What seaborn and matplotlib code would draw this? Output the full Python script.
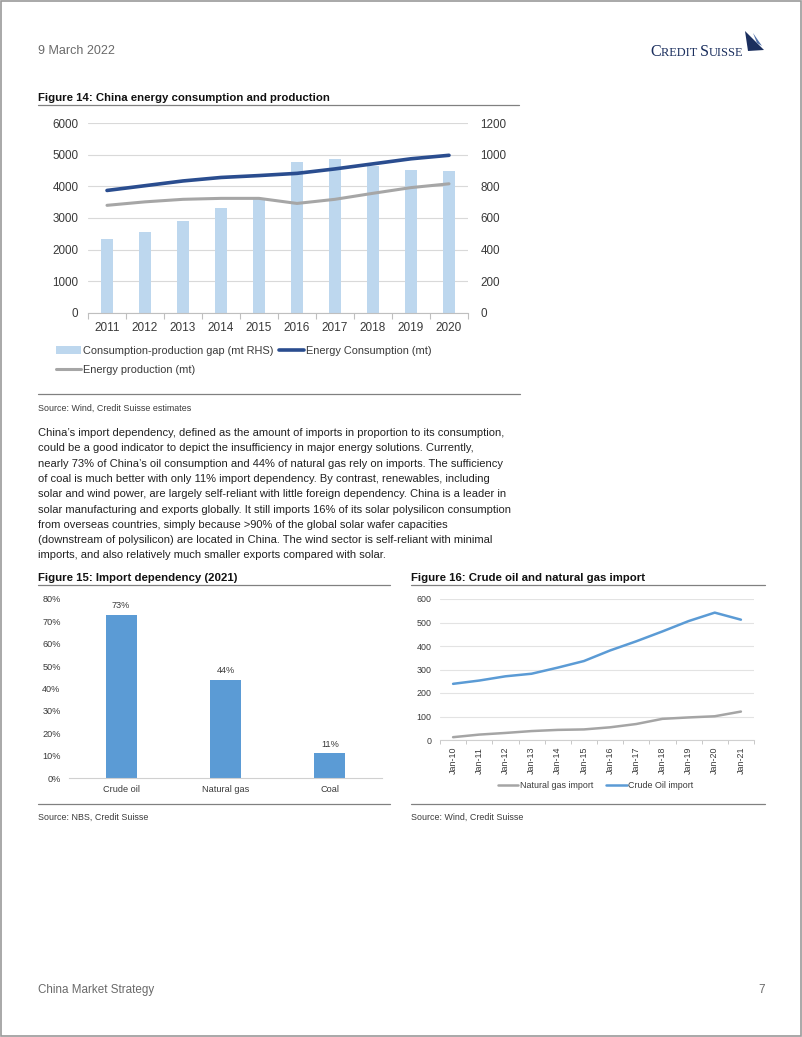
import numpy as np
import pandas as pd
import matplotlib
matplotlib.use("Agg")
import matplotlib.pyplot as plt
import seaborn as sns
from matplotlib.patches import Rectangle, Polygon, Patch
from matplotlib.lines import Line2D
from matplotlib.ticker import PercentFormatter

# ---------------- data ----------------
years = ["2011", "2012", "2013", "2014", "2015", "2016", "2017", "2018", "2019", "2020"]
gap_rhs = [466, 510, 580, 660, 724, 956, 970, 930, 900, 898]
consumption = [3870, 4020, 4170, 4280, 4340, 4410, 4550, 4710, 4870, 4980]
production = [3400, 3510, 3590, 3620, 3620, 3460, 3590, 3780, 3960, 4080]

dep_categories = ["Crude oil", "Natural gas", "Coal"]
dep_values = [0.73, 0.44, 0.11]

import_periods = ["Jan-10", "Jan-11", "Jan-12", "Jan-13", "Jan-14", "Jan-15",
                  "Jan-16", "Jan-17", "Jan-18", "Jan-19", "Jan-20", "Jan-21"]
crude_import = [239, 253, 271, 282, 308, 336, 381, 420, 462, 506, 542, 512]
gas_import = [12, 23, 30, 38, 43, 45, 54, 68, 90, 96, 101, 121]

body_lines = [
    "China\u2019s import dependency, defined as the amount of imports in proportion to its consumption,",
    "could be a good indicator to depict the insufficiency in major energy solutions. Currently,",
    "nearly 73% of China\u2019s oil consumption and 44% of natural gas rely on imports. The sufficiency",
    "of coal is much better with only 11% import dependency. By contrast, renewables, including",
    "solar and wind power, are largely self-reliant with little foreign dependency. China is a leader in",
    "solar manufacturing and exports globally. It still imports 16% of its solar polysilicon consumption",
    "from overseas countries, simply because >90% of the global solar wafer capacities",
    "(downstream of polysilicon) are located in China. The wind sector is self-reliant with minimal",
    "imports, and also relatively much smaller exports compared with solar.",
]

# ---------------- style ----------------
sns.set_theme(style="white")
plt.rcParams["font.family"] = ["Liberation Sans", "DejaVu Sans"]

W, H = 802, 1037
fig = plt.figure(figsize=(W / 100, H / 100), dpi=100)
renderer = fig.canvas.get_renderer()


def rect(l, t, r, b):
    return [l / W, 1 - b / H, (r - l) / W, (b - t) / H]


def fx(x):
    return x / W


def fy(y):
    return 1 - y / H


def hline(x0, x1, y, color="#808080", lw=0.9):
    fig.add_artist(Line2D([fx(x0), fx(x1)], [fy(y), fy(y)], color=color, lw=lw,
                          transform=fig.transFigure))


TXT = "#3a3a3a"
GRID = "#D9D9D9"
NAVY = "#1B2F5E"

# page border
fig.add_artist(Rectangle((0.0008, 0.0008), 0.9984, 0.9984, transform=fig.transFigure,
                         fill=False, edgecolor="#9a9a9a", lw=1.2))

# header
fig.text(fx(38), fy(51), "9 March 2022", fontsize=9, color="#6a6a6a", va="center", ha="left")

# logo text in small caps (large initials, smaller remaining letters)
x_cur = 650
for piece, size in [("C", 11.6), ("REDIT ", 8.9), ("S", 11.6), ("UISSE", 8.9)]:
    t = fig.text(fx(x_cur), fy(56), piece, fontsize=size, color=NAVY, va="baseline",
                 ha="left", family=["Liberation Serif", "DejaVu Serif"])
    bb = t.get_window_extent(renderer=renderer)
    x_cur += bb.width
fig.add_artist(Polygon([[fx(745), fy(31)], [fx(757), fy(43)], [fx(764), fy(50)],
                        [fx(748), fy(51)]],
                       closed=True, transform=fig.transFigure, color=NAVY, lw=0))
fig.add_artist(Polygon([[fx(753), fy(33)], [fx(762), fy(46)], [fx(757), fy(43)]],
                       closed=True, transform=fig.transFigure, color="#4f6fa8", lw=0))

# ---------------- Figure 14 ----------------
fig.text(fx(38), fy(98), "Figure 14: China energy consumption and production",
         fontsize=8.2, weight="bold", color="#111111", va="center")
hline(38, 519, 105)

df14 = pd.DataFrame({"year": years, "gap": gap_rhs,
                     "consumption": consumption, "production": production})
ax = fig.add_axes(rect(88, 123, 468, 313))
axr = ax.twinx()
sns.barplot(data=df14, x="year", y="gap", ax=axr, color="#BDD7EE", width=0.32,
            saturation=1, linewidth=0)
pos = np.arange(len(years))
sns.lineplot(x=pos, y=df14["consumption"], ax=ax, color="#2A4D8F", lw=2.6)
sns.lineplot(x=pos, y=df14["production"], ax=ax, color="#A6A6A6", lw=2.2)
ax.set_zorder(axr.get_zorder() + 1)
ax.patch.set_visible(False)

ax.set_xlim(-0.5, len(years) - 0.5)
ax.set_xticks(pos, years)
ax.set_xticks(np.arange(-0.5, len(years), 1), minor=True)
ax.set_ylim(0, 6000)
ax.set_yticks(np.arange(0, 6001, 1000))
axr.set_ylim(0, 1200)
axr.set_yticks(np.arange(0, 1201, 200))
ax.set_xlabel("")
ax.set_ylabel("")
axr.set_ylabel("")
axr.set_xlabel("")
ax.grid(False)
axr.grid(False)
axr.yaxis.grid(True, color=GRID, lw=0.8)
axr.set_axisbelow(True)
ax.tick_params(axis="x", which="major", length=0, pad=6.5, labelsize=8.5, labelcolor=TXT)
ax.tick_params(axis="x", which="minor", length=4, color="#BFBFBF", width=0.8, bottom=True)
ax.tick_params(axis="y", length=0, pad=7, labelsize=8.4, labelcolor=TXT)
axr.tick_params(axis="y", length=0, pad=9, labelsize=8.4, labelcolor=TXT)
for s in ax.spines.values():
    s.set_visible(False)
for s in axr.spines.values():
    s.set_visible(False)
ax.spines["bottom"].set_visible(True)
ax.spines["bottom"].set_color("#BFBFBF")
ax.spines["bottom"].set_linewidth(0.8)

h_bar = Patch(facecolor="#BDD7EE", edgecolor="none")
h_cons = Line2D([], [], color="#2A4D8F", lw=2.6)
h_prod = Line2D([], [], color="#A6A6A6", lw=2.2)
fig.legend(handles=[h_bar, h_prod, h_cons],
           labels=["Consumption-production gap (mt RHS)", "Energy production (mt)",
                   "Energy Consumption (mt)"],
           ncol=2, loc="upper left", bbox_to_anchor=(fx(56), fy(346)), frameon=False,
           fontsize=7.9, handlelength=2.3, handletextpad=0.2, columnspacing=0.45,
           labelspacing=0.85, borderpad=0, borderaxespad=0, labelcolor=TXT)

hline(38, 520, 394)
fig.text(fx(38), fy(408), "Source: Wind, Credit Suisse estimates", fontsize=6.4,
         color=TXT, va="center")

# body text
for i, line in enumerate(body_lines):
    fig.text(fx(38), fy(433 + i * 15.3), line, fontsize=8.05, color="#222222", va="center")

# ---------------- Figure 15 ----------------
fig.text(fx(38), fy(578), "Figure 15: Import dependency (2021)", fontsize=8.2,
         weight="bold", color="#111111", va="center")
hline(38, 390, 585)
ax15 = fig.add_axes(rect(69, 599, 382, 778))
sns.barplot(x=dep_categories, y=dep_values, ax=ax15, color="#5B9BD5", width=0.3,
            saturation=1, linewidth=0)
ax15.set_ylim(0, 0.8)
ax15.set_yticks(np.arange(0, 0.81, 0.1))
ax15.yaxis.set_major_formatter(PercentFormatter(1, decimals=0))
ax15.bar_label(ax15.containers[0], labels=[f"{v:.0%}" for v in dep_values],
               padding=3, fontsize=6.6, color=TXT)
ax15.grid(False)
ax15.tick_params(axis="both", length=0, labelsize=6.6, labelcolor=TXT)
ax15.tick_params(axis="y", pad=6)
ax15.tick_params(axis="x", pad=5)
for s in ax15.spines.values():
    s.set_visible(False)
ax15.spines["bottom"].set_visible(True)
ax15.spines["bottom"].set_color("#D0D0D0")
ax15.spines["bottom"].set_linewidth(0.8)
hline(38, 390, 804)
fig.text(fx(38), fy(817), "Source: NBS, Credit Suisse", fontsize=6.4, color=TXT, va="center")

# ---------------- Figure 16 ----------------
fig.text(fx(411), fy(578), "Figure 16: Crude oil and natural gas import", fontsize=8.2,
         weight="bold", color="#111111", va="center")
hline(411, 765, 585)
ax16 = fig.add_axes(rect(440, 599, 754, 740))
p16 = np.arange(len(import_periods))
sns.lineplot(x=p16, y=gas_import, ax=ax16, color="#A5A5A5", lw=1.8)
sns.lineplot(x=p16, y=crude_import, ax=ax16, color="#5B9BD5", lw=1.8)
ax16.set_xlim(-0.5, len(import_periods) - 0.5)
ax16.set_xticks(p16, import_periods, rotation=90)
ax16.set_xticks(np.arange(-0.5, len(import_periods), 1), minor=True)
ax16.set_ylim(0, 600)
ax16.set_yticks(np.arange(0, 601, 100))
ax16.grid(False)
ax16.yaxis.grid(True, color="#E3E3E3", lw=0.8)
ax16.set_axisbelow(True)
ax16.tick_params(axis="both", which="major", length=0, labelsize=6.4, labelcolor=TXT)
ax16.tick_params(axis="x", which="minor", length=3, color="#C8C8C8", width=0.7, bottom=True)
ax16.tick_params(axis="y", pad=6)
ax16.tick_params(axis="x", pad=5)
for s in ax16.spines.values():
    s.set_visible(False)
ax16.spines["bottom"].set_visible(True)
ax16.spines["bottom"].set_color("#D0D0D0")
ax16.spines["bottom"].set_linewidth(0.8)
fig.legend(handles=[Line2D([], [], color="#A5A5A5", lw=1.8),
                    Line2D([], [], color="#5B9BD5", lw=1.8)],
           labels=["Natural gas import", "Crude Oil import"],
           ncol=2, loc="center left", bbox_to_anchor=(fx(498), fy(786)), frameon=False,
           fontsize=6.4, handlelength=2.3, handletextpad=0.15, columnspacing=1.5,
           borderpad=0, borderaxespad=0, labelcolor=TXT)
hline(411, 765, 804)
fig.text(fx(411), fy(817), "Source: Wind, Credit Suisse", fontsize=6.4, color=TXT, va="center")

# footer
fig.text(fx(38), fy(990), "China Market Strategy", fontsize=8.4, color="#6a6a6a", va="center")
fig.text(fx(765), fy(990), "7", fontsize=8.4, color="#6a6a6a", va="center", ha="right")

fig.savefig("out.png", dpi=100)
